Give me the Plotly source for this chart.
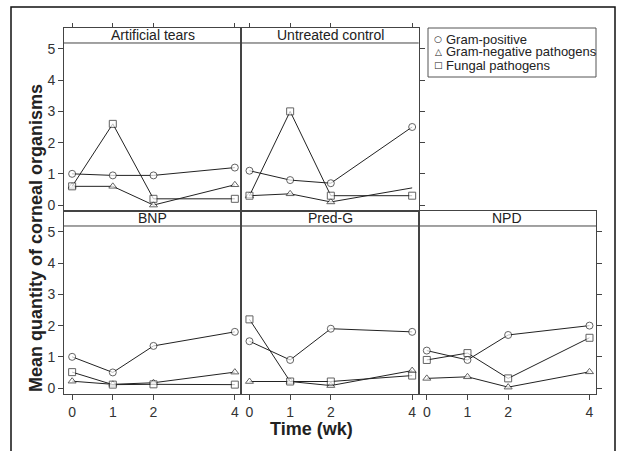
import plotly.graph_objects as go

weeks = [0, 1, 2, 4]
week_labels = ["0", "1", "2", "4"]
panels = ["Artificial tears", "Untreated control", "BNP", "Pred-G", "NPD"]
series_names = ["Gram-positive", "Gram-negative pathogens", "Fungal pathogens"]

gram_positive = [
    [1.0, 0.95, 0.95, 1.2],
    [1.1, 0.8, 0.7, 2.5],
    [1.0, 0.5, 1.35, 1.8],
    [1.5, 0.9, 1.9, 1.8],
    [1.2, 0.9, 1.7, 2.0],
]
gram_negative = [
    [0.6, 0.6, 0.0, 0.65],
    [0.3, 0.36, 0.1, 0.55],
    [0.22, 0.12, 0.17, 0.51],
    [0.21, 0.21, 0.08, 0.56],
    [0.31, 0.36, 0.03, 0.52],
]
fungal = [
    [0.6, 2.6, 0.2, 0.2],
    [0.3, 3.0, 0.3, 0.3],
    [0.51, 0.11, 0.12, 0.11],
    [2.2, 0.21, 0.21, 0.4],
    [0.9, 1.12, 0.31, 1.61],
]
y_ticks = [0, 1, 2, 3, 4, 5]

FONT = "Liberation Sans, Arial, sans-serif"
LINE = "#222222"
AX = "#444444"

# panel positions (col, row) -> domains
col_dom = [[0, 1/3], [1/3, 2/3], [2/3, 1]]
row_dom = {"top": [0.5, 1.0], "bot": [0.0, 0.5]}
panel_pos = [(0, "top"), (1, "top"), (0, "bot"), (1, "bot"), (2, "bot")]

YR = [-0.19, 5.67]
STRIP = 5.19
XR = [-0.2, 4.16]

fig = go.Figure()
symbols = ["circle", "triangle-up", "square"]
all_series = [gram_positive, gram_negative, fungal]

for p, name in enumerate(panels):
    ax = "" if p == 0 else str(p + 1)
    for s, data in enumerate(all_series):
        sizes = [7, 7, 7, 7]
        if p == 1 and s == 1:
            sizes = [7, 7, 7, 0]
        fig.add_trace(go.Scatter(
            x=weeks, y=data[p], mode="lines+markers",
            xaxis="x" + ax, yaxis="y" + ax,
            line=dict(color=LINE, width=1),
            marker=dict(symbol=symbols[s], size=sizes,
                        color="white", line=dict(color=LINE, width=1)),
            showlegend=False, name=series_names[s],
        ))

layout = dict(
    width=620, height=451,
    margin=dict(l=64, r=24, t=28, b=57),
    paper_bgcolor="white", plot_bgcolor="white",
    font=dict(family=FONT, size=14, color="#333333"),
    showlegend=False,
)

for p, name in enumerate(panels):
    ax = "" if p == 0 else str(p + 1)
    col, row = panel_pos[p]
    xa = dict(domain=col_dom[col], range=XR, anchor="y" + ax,
              showgrid=False, zeroline=False, showline=True, mirror=True,
              linecolor=AX, linewidth=1, tickvals=weeks, ticktext=week_labels,
              tickcolor=AX, ticklen=4, fixedrange=True)
    if row == "top":
        xa.update(side="top", ticks="outside", showticklabels=False)
    else:
        xa.update(side="bottom", ticks="outside", showticklabels=True, ticklen=5,
                  tickfont=dict(size=14, color="#333333"))
    ya = dict(domain=row_dom[row], range=YR, anchor="x" + ax,
              showgrid=False, zeroline=False, showline=True, mirror=True,
              linecolor=AX, linewidth=1, tickvals=y_ticks, tickcolor=AX,
              ticklen=5, fixedrange=True)
    if col == 0:
        ya.update(side="left", ticks="outside", showticklabels=True,
                  tickfont=dict(size=14, color="#333333"))
    elif (p == 1) or (p == 4):
        ya.update(side="right", ticks="outside", showticklabels=False)
    else:
        ya.update(ticks="", showticklabels=False)
    layout["xaxis" + ax] = xa
    layout["yaxis" + ax] = ya

fig.update_layout(**layout)

shapes = []
annotations = []
for p, name in enumerate(panels):
    ax = "" if p == 0 else str(p + 1)
    shapes.append(dict(type="line", xref="x" + ax + " domain", yref="y" + ax,
                       x0=0, x1=1, y0=STRIP, y1=STRIP,
                       line=dict(color=AX, width=1)))
    annotations.append(dict(text=name, xref="x" + ax + " domain", yref="y" + ax,
                            x=0.5, y=(STRIP + YR[1]) / 2, showarrow=False,
                            xanchor="center", yanchor="middle",
                            font=dict(size=14, color="#222222", family=FONT)))

# outer frame
shapes.append(dict(type="rect", xref="paper", yref="paper",
                   x0=(11 - 64) / 532, x1=(615 - 64) / 532,
                   y0=-0.4, y1=1 + 21 / 366,
                   line=dict(color="#111111", width=1.5)))

# legend box
shapes.append(dict(type="rect", xref="paper", yref="paper",
                   x0=(428 - 64) / 532, x1=(596 - 64) / 532,
                   y0=1 - (77 - 28) / 366, y1=1.0,
                   line=dict(color="#555555", width=1), fillcolor="white"))
leg_syms = ["○", "△", "□"]
leg_rows = [39, 52, 65]
for i, nm in enumerate(series_names):
    yp = 1 - (leg_rows[i] - 28) / 366
    annotations.append(dict(text=leg_syms[i], xref="paper", yref="paper",
                            x=(438 - 64) / 532, y=yp, showarrow=False,
                            xanchor="center", yanchor="middle",
                            font=dict(size=9, color="#222222", family="DejaVu Sans")))
    annotations.append(dict(text=nm, xref="paper", yref="paper",
                            x=(444 - 64) / 532, y=yp, showarrow=False,
                            xanchor="left", yanchor="middle",
                            font=dict(size=13, color="#222222", family=FONT)))

annotations.append(dict(text="<b>Mean quantity of corneal organisms</b>",
                        xref="paper", yref="paper", x=(36 - 64) / 532,
                        y=(394 - 238) / 366, textangle=-90, showarrow=False,
                        xanchor="center", yanchor="middle",
                        font=dict(size=18, color="#222222", family=FONT)))
annotations.append(dict(text="<b>Time (wk)</b>", xref="paper", yref="paper",
                        x=(311 - 64) / 532, y=(394 - 429) / 366, showarrow=False,
                        xanchor="center", yanchor="middle",
                        font=dict(size=18, color="#222222", family=FONT)))

fig.update_layout(shapes=shapes, annotations=annotations)
fig.write_html("out.html", config={"displayModeBar": False},
               post_script="document.body.style.margin='0';")
